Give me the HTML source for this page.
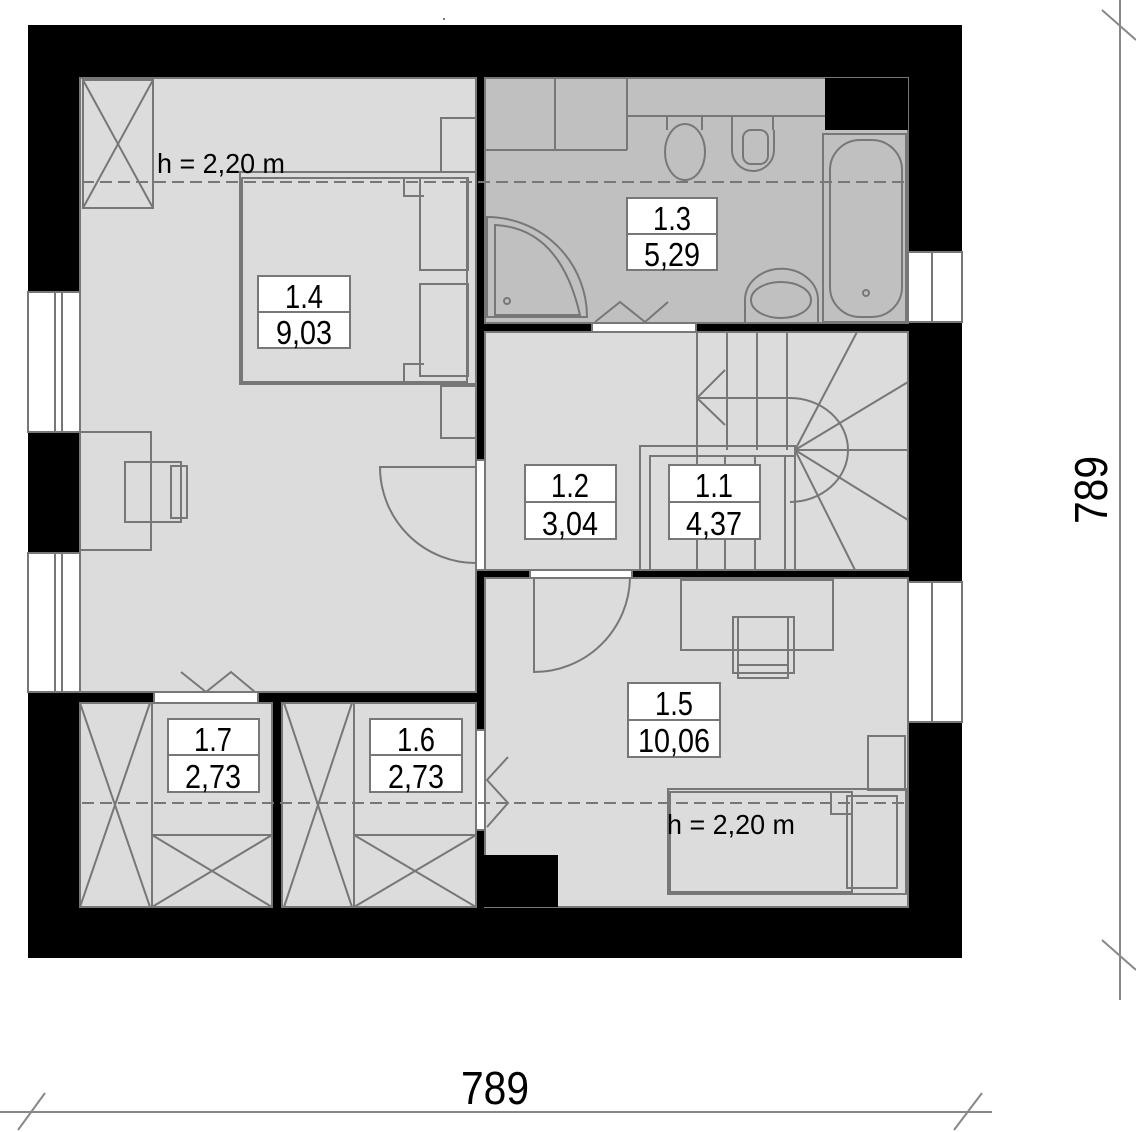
<!DOCTYPE html>
<html><head><meta charset="utf-8"><style>html,body{margin:0;padding:0;background:#fff}svg{display:block}</style></head>
<body>
<svg width="1136" height="1132" viewBox="0 0 1136 1132" xmlns="http://www.w3.org/2000/svg" font-family="Liberation Sans, sans-serif">
<rect x="28" y="25" width="934" height="933" fill="#000"/>
<rect x="80" y="78" width="396" height="614" fill="#dcdcdc" stroke="#777" stroke-width="2"/>
<rect x="485" y="78" width="423" height="245" fill="#c0c0c0" stroke="#777" stroke-width="2"/>
<rect x="485" y="332" width="423" height="238" fill="#dcdcdc" stroke="#777" stroke-width="2"/>
<rect x="485" y="578" width="423" height="329" fill="#dcdcdc" stroke="#777" stroke-width="2"/>
<rect x="476" y="855" width="82" height="52" fill="#000"/>
<rect x="80" y="703" width="192" height="204" fill="#dcdcdc" stroke="#777" stroke-width="2"/>
<rect x="282" y="703" width="194" height="204" fill="#dcdcdc" stroke="#777" stroke-width="2"/>
<rect x="825" y="78" width="83" height="52" fill="#000"/>
<g fill="#fff" stroke="#777" stroke-width="2">
<rect x="28" y="292" width="52" height="140"/><line x1="55" y1="292" x2="55" y2="432"/><line x1="62" y1="292" x2="62" y2="432"/>
<rect x="28" y="553" width="52" height="139"/><line x1="55" y1="553" x2="55" y2="692"/><line x1="62" y1="553" x2="62" y2="692"/>
<rect x="908" y="252" width="54" height="70"/><line x1="932" y1="252" x2="932" y2="322"/>
<rect x="908" y="582" width="54" height="140"/><line x1="932" y1="582" x2="932" y2="722"/>
<rect x="592" y="323" width="104" height="9"/>
<rect x="530" y="570" width="102" height="8"/>
<rect x="154" y="692" width="104" height="11"/>
<rect x="476" y="460" width="9" height="110"/>
<rect x="476" y="730" width="9" height="100"/>
</g>
<g fill="none" stroke="#777" stroke-width="2">
<path d="M476 467 L380 467 A96 96 0 0 0 476 563"/>
<path d="M534 578 L534 672 A96 96 0 0 0 630 578"/>
<polyline points="595,322 620,302 645,322 668,302"/>
<polyline points="181,672 206,692 231,672 255,692"/>
<polyline points="508,757 487,780 508,803 487,827"/>
<rect x="83" y="80" width="70" height="128"/><line x1="83" y1="80" x2="153" y2="208"/><line x1="153" y1="80" x2="83" y2="208"/>
<rect x="240" y="172" width="236" height="212"/>
<rect x="242" y="178" width="225" height="204"/>
<rect x="420" y="178" width="48" height="92"/><rect x="420" y="284" width="48" height="92"/>
<rect x="441" y="118" width="35" height="54"/><rect x="441" y="386" width="35" height="52"/>
<polyline points="404,178 404,196 424,196"/>
<polyline points="404,382 404,364 424,364"/>
<rect x="80" y="432" width="71" height="118"/>
<rect x="125" y="462" width="56" height="60"/><rect x="171" y="466" width="16" height="52"/>
<line x1="80" y1="703" x2="150" y2="907"/><line x1="150" y1="703" x2="80" y2="907"/><line x1="152" y1="703" x2="152" y2="907"/>
<rect x="152" y="835" width="120" height="72"/><line x1="152" y1="835" x2="272" y2="907"/><line x1="272" y1="835" x2="152" y2="907"/>
<line x1="284" y1="703" x2="352" y2="907"/><line x1="352" y1="703" x2="284" y2="907"/><line x1="354" y1="703" x2="354" y2="907"/>
<rect x="354" y="835" width="122" height="72"/><line x1="354" y1="835" x2="476" y2="907"/><line x1="476" y1="835" x2="354" y2="907"/>
<line x1="555" y1="78" x2="555" y2="150"/><line x1="485" y1="150" x2="627" y2="150"/><line x1="627" y1="78" x2="627" y2="150"/><line x1="627" y1="116" x2="825" y2="116"/>
<line x1="667" y1="116" x2="667" y2="130"/><line x1="702" y1="116" x2="702" y2="130"/>
<ellipse cx="685" cy="152" rx="20" ry="28"/>
<line x1="732" y1="116" x2="732" y2="130"/><line x1="773" y1="116" x2="773" y2="130"/>
<path d="M732 130 L732 150 A21 21 0 0 0 774 150 L774 130"/>
<rect x="743" y="130" width="25" height="34" rx="8"/>
<path d="M487 217 A100 100 0 0 1 587 317 L487 317 Z"/>
<path d="M495 225 Q560 228 580 315 L495 315 Z"/>
<circle cx="507" cy="301" r="3"/>
<path d="M745 322 L745 300 A35 30 0 0 1 818 300 L818 322"/>
<ellipse cx="781" cy="300" rx="30" ry="18"/>
<rect x="823" y="134" width="83" height="188"/>
<rect x="830" y="140" width="72" height="177" rx="30"/>
<circle cx="866" cy="293" r="3"/>
<line x1="697" y1="332" x2="697" y2="570"/><line x1="727" y1="332" x2="727" y2="450"/><line x1="757" y1="332" x2="757" y2="450"/><line x1="787" y1="332" x2="787" y2="450"/>
<line x1="697" y1="398" x2="790" y2="398"/>
<polyline points="725,370 697,398 725,425"/>
<rect x="640" y="446" width="155" height="124"/><rect x="650" y="456" width="145" height="114"/>
<line x1="697" y1="456" x2="697" y2="570"/><line x1="725" y1="456" x2="725" y2="570"/><line x1="755" y1="456" x2="755" y2="570"/><line x1="785" y1="456" x2="785" y2="570"/>
<path d="M790 398 A58 52 0 0 1 790 502"/>
<line x1="795" y1="450" x2="857" y2="332"/><line x1="795" y1="450" x2="908" y2="382"/><line x1="795" y1="450" x2="908" y2="450"/><line x1="795" y1="450" x2="908" y2="520"/><line x1="795" y1="450" x2="855" y2="570"/>
<rect x="681" y="580" width="152" height="70"/>
<rect x="733" y="617" width="61" height="56"/><rect x="738" y="617" width="50" height="48"/><rect x="738" y="665" width="50" height="13"/>
<rect x="868" y="736" width="37" height="54"/>
<rect x="668" y="789" width="238" height="105"/>
<rect x="670" y="792" width="182" height="100"/>
<rect x="847" y="796" width="50" height="92"/>
<polyline points="831,792 831,814 852,814"/>
</g>
<g stroke="#777" stroke-width="2" stroke-dasharray="12,6">
<line x1="82" y1="182" x2="906" y2="182"/>
<line x1="82" y1="803" x2="906" y2="803"/>
</g>
<g font-size="28" fill="#000">
<text x="157" y="173" textLength="128" lengthAdjust="spacingAndGlyphs">h = 2,20 m</text>
<text x="667" y="834" textLength="128" lengthAdjust="spacingAndGlyphs">h = 2,20 m</text>
</g>
<g fill="#fff" stroke="#777" stroke-width="2">
<rect x="258" y="276" width="92" height="72"/><line x1="258" y1="312" x2="350" y2="312"/>
<rect x="627" y="198" width="90" height="72"/><line x1="627" y1="234" x2="717" y2="234"/>
<rect x="525" y="465" width="91" height="74"/><line x1="525" y1="502" x2="616" y2="502"/>
<rect x="669" y="465" width="91" height="74"/><line x1="669" y1="502" x2="760" y2="502"/>
<rect x="628" y="683" width="92" height="74"/><line x1="628" y1="720" x2="720" y2="720"/>
<rect x="168" y="719" width="91" height="73"/><line x1="168" y1="755" x2="259" y2="755"/>
<rect x="370" y="719" width="92" height="73"/><line x1="370" y1="755" x2="462" y2="755"/>
</g>
<g font-size="33" fill="#000" text-anchor="middle" lengthAdjust="spacingAndGlyphs">
<text x="304" y="308" textLength="38" lengthAdjust="spacingAndGlyphs">1.4</text><text x="304" y="344" textLength="56" lengthAdjust="spacingAndGlyphs">9,03</text>
<text x="672" y="230" textLength="38" lengthAdjust="spacingAndGlyphs">1.3</text><text x="672" y="266" textLength="56" lengthAdjust="spacingAndGlyphs">5,29</text>
<text x="570" y="497" textLength="38" lengthAdjust="spacingAndGlyphs">1.2</text><text x="570" y="535" textLength="56" lengthAdjust="spacingAndGlyphs">3,04</text>
<text x="714" y="497" textLength="38" lengthAdjust="spacingAndGlyphs">1.1</text><text x="714" y="535" textLength="56" lengthAdjust="spacingAndGlyphs">4,37</text>
<text x="674" y="715" textLength="38" lengthAdjust="spacingAndGlyphs">1.5</text><text x="674" y="752" textLength="72" lengthAdjust="spacingAndGlyphs">10,06</text>
<text x="213" y="751" textLength="38" lengthAdjust="spacingAndGlyphs">1.7</text><text x="213" y="788" textLength="56" lengthAdjust="spacingAndGlyphs">2,73</text>
<text x="416" y="751" textLength="38" lengthAdjust="spacingAndGlyphs">1.6</text><text x="416" y="788" textLength="56" lengthAdjust="spacingAndGlyphs">2,73</text>
</g>
<g stroke="#888" stroke-width="2">
<line x1="0" y1="1112" x2="992" y2="1112"/>
<line x1="45" y1="1093" x2="18" y2="1130"/>
<line x1="982" y1="1093" x2="954" y2="1130"/>
<line x1="1120" y1="0" x2="1120" y2="1000"/>
<line x1="1102" y1="10" x2="1136" y2="40"/>
<line x1="1102" y1="940" x2="1136" y2="970"/>
</g>
<text x="495" y="1104" font-size="46" text-anchor="middle" textLength="68" lengthAdjust="spacingAndGlyphs">789</text>
<text transform="translate(1107,490) rotate(-90)" font-size="46" text-anchor="middle" textLength="68" lengthAdjust="spacingAndGlyphs">789</text>
<rect x="443" y="18" width="2" height="2" fill="#777"/>
</svg>
</body></html>
